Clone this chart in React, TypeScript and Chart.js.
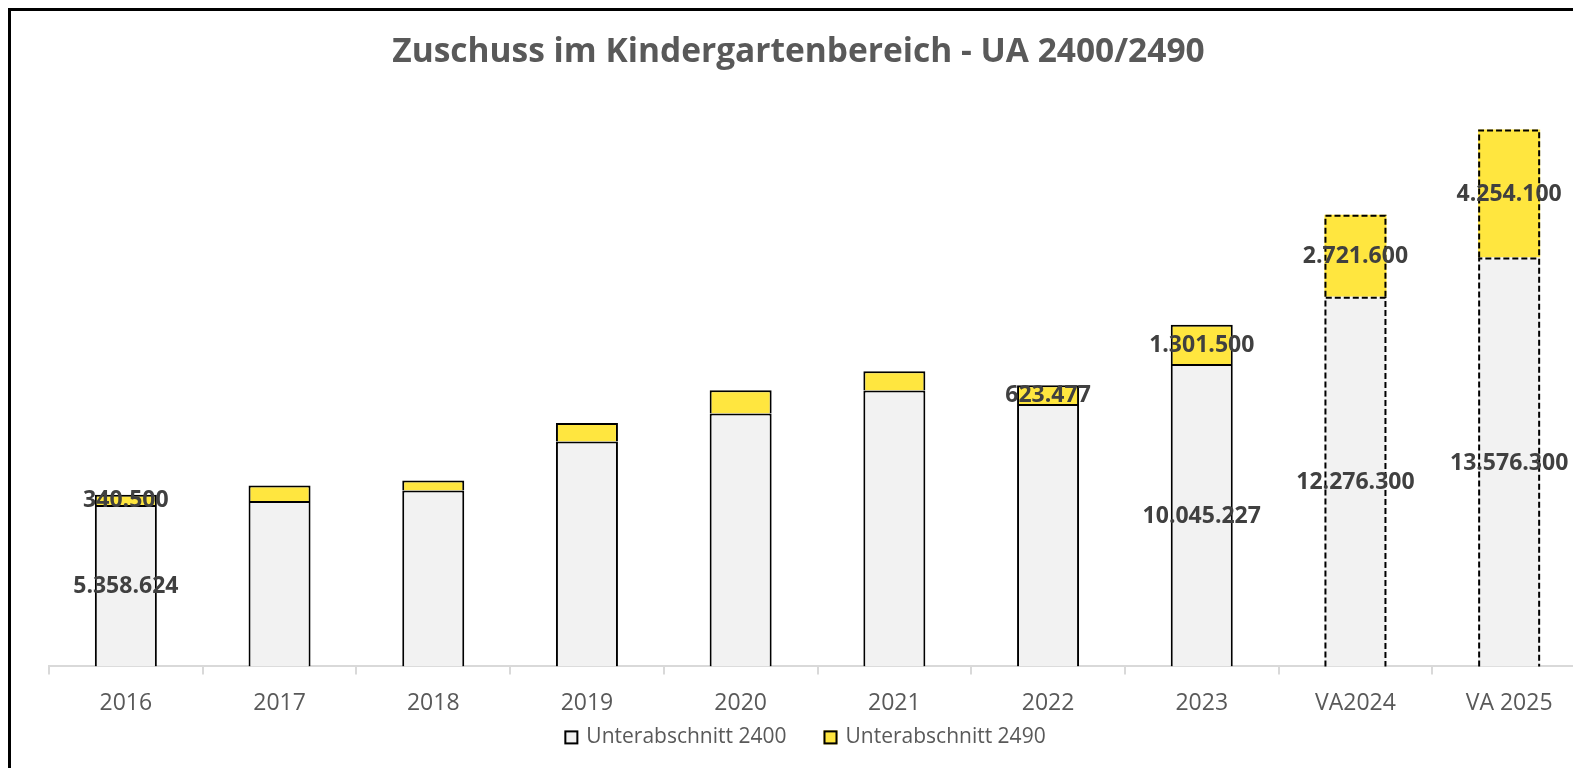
import React, { useEffect, useRef } from 'react';
import { Chart, registerables } from 'chart.js';

Chart.register(...registerables);

const chartTitle = 'Zuschuss im Kindergartenbereich - UA 2400/2490';
const categories = ['2016', '2017', '2018', '2019', '2020', '2021', '2022', '2023', 'VA2024', 'VA 2025'];
const seriesNames = ['Unterabschnitt 2400', 'Unterabschnitt 2490'];
const ua2400 = [5358624, 5490000, 5840000, 7470000, 8400000, 9160000, 8710000, 10045227, 12276300, 13576300];
const ua2490 = [340500, 520000, 330000, 610000, 770000, 640000, 623477, 1301500, 2721600, 4254100];
const show2400 = [true, false, false, false, false, false, false, true, true, true];
const show2490 = [true, false, false, false, false, false, true, true, true, true];
const planned = [false, false, false, false, false, false, false, false, true, true];

const showLabels = [show2400, show2490];
const fills = ['#F2F2F2', '#FFE63F'];

const fmt = (n: number) => String(Math.round(n)).replace(/\B(?=(\d{3})+(?!\d))/g, '.');

const overlayPlugin = {
  id: 'overlay',
  afterDatasetsDraw(chart: any) {
    const ctx = chart.ctx;
    ctx.save();
    chart.data.datasets.forEach((ds: any, di: number) => {
      const meta = chart.getDatasetMeta(di);
      meta.data.forEach((el: any, i: number) => {
        if (!planned[i]) return;
        const p = el.getProps(['x', 'y', 'base', 'width'], true);
        const l = p.x - p.width / 2 + 1;
        const r = p.x + p.width / 2 - 1;
        const t = Math.min(p.y, p.base) + 1;
        const b = Math.max(p.y, p.base);
        ctx.beginPath();
        ctx.setLineDash([6, 3]);
        ctx.lineWidth = 2;
        ctx.strokeStyle = '#000';
        ctx.moveTo(l, b);
        ctx.lineTo(l, t);
        ctx.lineTo(r, t);
        ctx.lineTo(r, b);
        ctx.stroke();
      });
    });
    ctx.setLineDash([]);
    ctx.font = 'bold 23px "Open Sans"';
    ctx.fillStyle = '#404040';
    ctx.textAlign = 'center';
    ctx.textBaseline = 'middle';
    chart.data.datasets.forEach((ds: any, di: number) => {
      const meta = chart.getDatasetMeta(di);
      meta.data.forEach((el: any, i: number) => {
        if (!showLabels[di][i]) return;
        const p = el.getProps(['x', 'y', 'base'], true);
        ctx.fillText(fmt(ds.data[i]), p.x, (p.y + p.base) / 2 + 1);
      });
    });
    ctx.restore();
  },
  afterDraw(chart: any) {
    const ctx = chart.ctx;
    ctx.save();
    ctx.font = '21px "Open Sans"';
    ctx.textBaseline = 'middle';
    ctx.textAlign = 'left';
    const box = 14;
    const gapText = 8;
    const gapItem = 37;
    const widths = seriesNames.map((s) => ctx.measureText(s).width);
    const total = widths.reduce((a, w) => a + box + gapText + w, 0) + gapItem * (seriesNames.length - 1);
    let x = chart.width / 2 + 6 - total / 2;
    const y = chart.chartArea.bottom + 71;
    seriesNames.forEach((s, i) => {
      ctx.fillStyle = fills[i];
      ctx.fillRect(x, y - box / 2, box, box);
      ctx.lineWidth = 2;
      ctx.strokeStyle = '#000';
      ctx.strokeRect(x + 1, y - box / 2 + 1, box - 2, box - 2);
      ctx.fillStyle = '#595959';
      ctx.fillText(s, x + box + gapText, y);
      x += box + gapText + widths[i] + gapItem;
    });
    ctx.restore();
  },
};

export default function App() {
  const canvasRef = useRef<HTMLCanvasElement | null>(null);

  useEffect(() => {
    const prevMargin = document.body.style.margin;
    const prevOverflow = document.body.style.overflow;
    document.body.style.margin = '0';
    document.body.style.overflow = 'hidden';
    if (!canvasRef.current) return;
    const chart = new Chart(canvasRef.current, {
      type: 'bar',
      data: {
        labels: categories,
        datasets: [
          {
            label: seriesNames[0],
            data: ua2400,
            backgroundColor: fills[0],
            borderColor: '#000',
            borderWidth: (c: any) => (planned[c.dataIndex] ? 0 : 2),
            borderSkipped: 'start',
            categoryPercentage: 1,
            barPercentage: 0.4034,
          },
          {
            label: seriesNames[1],
            data: ua2490,
            backgroundColor: fills[1],
            borderColor: '#000',
            borderWidth: (c: any) => (planned[c.dataIndex] ? 0 : 2),
            borderSkipped: 'start',
            categoryPercentage: 1,
            barPercentage: 0.4034,
          },
        ],
      },
      options: {
        animation: false,
        responsive: true,
        maintainAspectRatio: false,
        layout: { padding: { left: 0, right: 1, top: 0, bottom: 31 } },
        plugins: {
          legend: { display: false },
          tooltip: { enabled: false },
          title: {
            display: true,
            text: chartTitle,
            color: '#595959',
            font: { family: '"Open Sans", sans-serif', size: 33.5, weight: 'bold' },
            padding: { top: 21, bottom: 7 },
          },
        },
        scales: {
          x: {
            stacked: true,
            grid: {
              display: true,
              drawOnChartArea: false,
              drawTicks: true,
              tickLength: 8,
              color: '#D9D9D9',
              lineWidth: 2,
              offset: true,
            },
            border: { display: true, color: '#D9D9D9', width: 2 },
            ticks: {
              color: '#595959',
              font: { family: '"Open Sans", sans-serif', size: 23 },
              padding: 15,
              maxRotation: 0,
              autoSkip: false,
            },
          },
          y: {
            display: true,
            stacked: true,
            min: 0,
            max: 19500000,
            grid: { display: false },
            border: { display: false },
            ticks: { display: false },
            afterFit: (scale: any) => {
              scale.width = 38;
            },
          },
        },
      },
      plugins: [overlayPlugin],
    } as any);
    return () => {
      chart.destroy();
      document.body.style.margin = prevMargin;
      document.body.style.overflow = prevOverflow;
    };
  }, []);

  return (
    <div style={{ position: 'relative', width: 1573, height: 768, overflow: 'hidden', background: '#fff' }}>
      <div
        style={{
          position: 'absolute',
          left: 8,
          top: 8,
          width: 1700,
          height: 900,
          borderTop: '3px solid #000',
          borderLeft: '3px solid #000',
          boxSizing: 'border-box',
        }}
      />
      <div style={{ position: 'absolute', left: 11, top: 11, width: 1576, height: 752 }}>
        <canvas ref={canvasRef} />
      </div>
    </div>
  );
}
